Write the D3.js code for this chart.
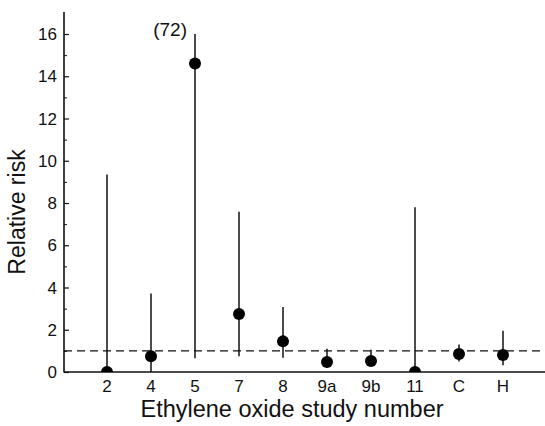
<!DOCTYPE html>
<html><head><meta charset="utf-8">
<script src="https://cdn.jsdelivr.net/npm/d3@7"></script>
<style>body{margin:0;background:#fff}svg{display:block}text{font-family:"Liberation Sans",Arial,sans-serif;fill:#111}</style>
</head><body>
<script>
const studies = ["2","4","5","7","8","9a","9b","11","C","H"];
const riskPoint = [0, 0.75, 14.6, 2.75, 1.45, 0.47, 0.52, 0, 0.85, 0.8];
const riskLower = [0, 0, 0.65, 0.75, 0.68, 0.2, 0.35, 0, 0.5, 0.32];
const riskUpper = [9.35, 3.72, 16, 7.58, 3.08, 1.1, 1.05, 7.8, 1.3, 1.95];
const yTicks = [0,2,4,6,8,10,12,14,16];
const yMinorTicks = [1,3,5,7,9,11,13,15];
const referenceRisk = 1;
const annotation = {study:"5", text:"(72)"};

const W=545,H=426;
const svg=d3.select("body").append("svg").attr("width",W).attr("height",H);
const x0=64, x1=545, yTop=12;
const y=d3.scaleLinear().domain([0,16]).range([372,34]);
const x=d3.scalePoint().domain(studies).range([107,503]);

svg.append("clipPath").attr("id","c").append("rect").attr("x",x0).attr("y",0).attr("width",W-x0).attr("height",y(0));

svg.append("line").attr("x1",x0).attr("x2",x0).attr("y1",yTop).attr("y2",y(0)+0.5).attr("stroke","#111").attr("stroke-width",1.6);
svg.append("line").attr("x1",x0).attr("x2",x1).attr("y1",y(0)).attr("y2",y(0)).attr("stroke","#111").attr("stroke-width",1.6);

const yg=svg.append("g").attr("transform",`translate(${x0},0)`)
 .call(d3.axisRight(y).tickValues(yTicks).tickSize(5).tickFormat(""));
yg.select(".domain").remove();
yg.selectAll("line").attr("stroke","#111").attr("stroke-width",1.2);
const ym=svg.append("g").attr("transform",`translate(${x0},0)`)
 .call(d3.axisRight(y).tickValues(yMinorTicks).tickSize(3).tickFormat(""));
ym.select(".domain").remove();
ym.selectAll("line").attr("stroke","#111").attr("stroke-width",1);

svg.append("g").selectAll("text").data(yTicks).join("text")
 .attr("x",57).attr("y",d=>y(d)).attr("dy","0.36em").attr("text-anchor","end")
 .style("font-size","17px").text(d=>d);

svg.append("g").selectAll("text").data(studies).join("text")
 .attr("x",d=>x(d)).attr("y",392).attr("text-anchor","middle")
 .style("font-size","17px").text(d=>d);

svg.append("line").attr("x1",x0).attr("x2",x1).attr("y1",y(referenceRisk)).attr("y2",y(referenceRisk))
 .attr("stroke","#111").attr("stroke-width",1.4).attr("stroke-dasharray","8,5");

const data=studies.map((s,i)=>({s,p:riskPoint[i],lo:riskLower[i],hi:riskUpper[i]}));
const g=svg.append("g").attr("clip-path","url(#c)");
g.selectAll("line.e").data(data).join("line").attr("class","e")
 .attr("x1",d=>x(d.s)).attr("x2",d=>x(d.s)).attr("y1",d=>y(d.lo)).attr("y2",d=>y(d.hi))
 .attr("stroke","#111").attr("stroke-width",1.5);
g.selectAll("circle").data(data).join("circle")
 .attr("cx",d=>x(d.s)).attr("cy",d=>y(d.p)).attr("r",6).attr("fill","#000");

svg.append("text").attr("x",x(annotation.study)-8).attr("y",36).attr("text-anchor","end")
 .style("font-size","19px").text(annotation.text);

svg.append("text").attr("transform",`translate(25,212) rotate(-90)`).attr("text-anchor","middle")
 .style("font-size","23px").text("Relative risk");
svg.append("text").attr("x",292).attr("y",417).attr("text-anchor","middle")
 .style("font-size","23.5px").text("Ethylene oxide study number");
</script>
</body></html>
